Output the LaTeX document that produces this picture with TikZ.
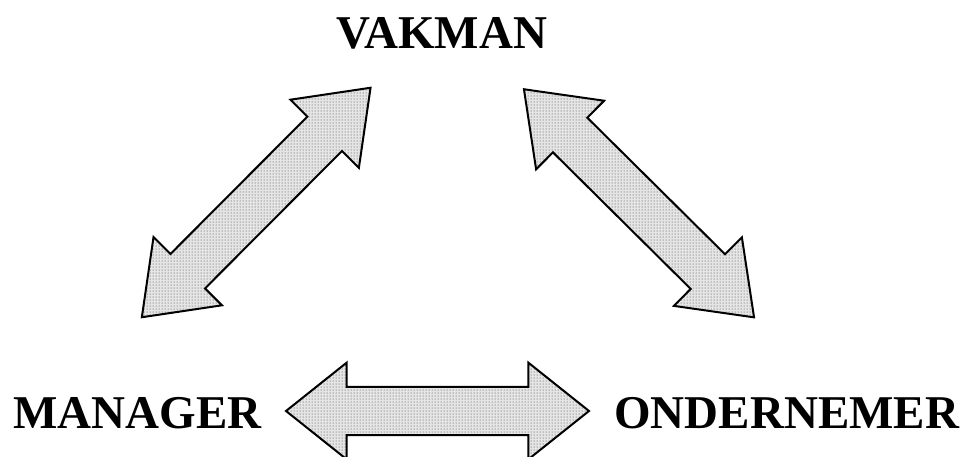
\documentclass[tikz,border=0pt]{standalone}
\usepackage{fontspec}
\setmainfont{Liberation Serif}
\usetikzlibrary{patterns}

\tikzset{
  x=1pt, y=1pt,
  label/.style={font=\fontsize{47}{50}\selectfont\bfseries, inner sep=0pt, anchor=base},
  arrowbody/.style={draw=black, line width=2pt, line join=miter,
    preaction={fill=gray!20}, pattern=dots, pattern color=gray!45!black},
  % double-headed block arrow: half length / head length / half shaft / half head
  pics/twohead/.style args={#1/#2/#3/#4}{code={
    \path[arrowbody] (-#1,0) -- (-#1+#2,#4) -- (-#1+#2,#3) -- (#1-#2,#3)
      -- (#1-#2,#4) -- (#1,0) -- (#1-#2,-#4) -- (#1-#2,-#3)
      -- (-#1+#2,-#3) -- (-#1+#2,-#4) -- cycle;
  }}
}

\begin{document}
\begin{tikzpicture}
  \useasboundingbox (0,0) rectangle (967,456);

  % the three roles
  \node[label] (vakman) at (441.7,407.7) {VAKMAN};
  \node[label] (manager) at (137.3,27.7) {MANAGER};
  \node[label] (ondernemer) at (786.7,28) {ONDERNEMER};

  % block arrows between the roles
  \pic[rotate=45.1] (mv) at (256.2,253.5) {twohead={162/65/24.4/48.3}};
  \pic[rotate=-44.75] (vo) at (639,252.7) {twohead={162/65/24.4/48.3}};
  \pic (mo) at (437.5,45) {twohead={151.5/60.6/24.2/48.3}};
\end{tikzpicture}
\end{document}
